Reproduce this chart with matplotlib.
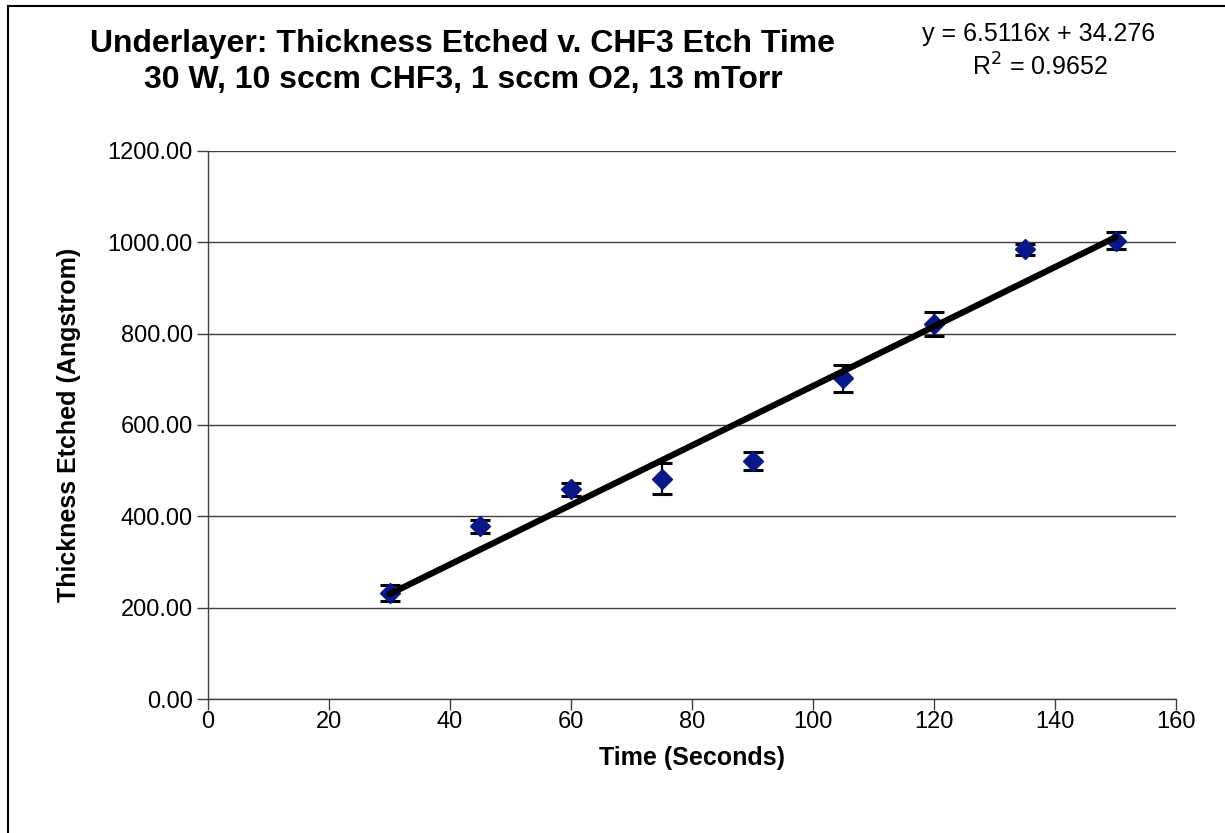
"""Underlayer etch thickness vs CHF3 etch time, with linear trendline"""

import matplotlib.pyplot as plt
import matplotlib.lines as mlines
import numpy as np

# Data
etch_time = [30, 45, 60, 75, 90, 105, 120, 135, 150]
thickness = [232, 378, 459, 482, 521, 702, 821, 985, 1004]
thickness_err = [17, 15, 14, 34, 20, 29, 27, 12, 18]

# Trendline coefficients as printed on the chart
slope = 6.5116
intercept = 34.276
r_squared = 0.9652

x_ticks = [0, 20, 40, 60, 80, 100, 120, 140, 160]
y_ticks = [0, 200, 400, 600, 800, 1000, 1200]

plt.rcParams['font.family'] = ['Liberation Sans', 'DejaVu Sans']

fig = plt.figure(figsize=(12.25, 8.33), dpi=100)
ax = fig.add_axes([208 / 1225, 1 - 699 / 833, (1176 - 208) / 1225, (699 - 151) / 833])

# horizontal gridlines only
ax.set_axisbelow(True)
ax.yaxis.grid(True, color='#404040', linewidth=1.0)

# error bars + markers
ax.errorbar(etch_time, thickness, yerr=thickness_err, fmt='none',
            ecolor='black', elinewidth=1.6, capsize=7, capthick=2.2, zorder=3)
ax.plot(etch_time, thickness, linestyle='none', marker='D', markersize=10.5,
        color='#08188a', markeredgecolor='#08188a', zorder=4)

# trendline over the data range
fit_x = np.array([min(etch_time), max(etch_time)])
ax.plot(fit_x, slope * fit_x + intercept, color='black', linewidth=4.5,
        solid_capstyle='round', zorder=5)

ax.set_xlim(0, 160)
ax.set_ylim(0, 1200)
ax.set_xticks(x_ticks)
ax.set_yticks(y_ticks)
ax.set_yticklabels([f'{v:.2f}' for v in y_ticks])
ax.tick_params(axis='both', direction='out', length=8, width=1.0,
               color='#404040', labelsize=17)
ax.tick_params(axis='y', pad=3)
ax.tick_params(axis='x', pad=1)

for side in ['top', 'right']:
    ax.spines[side].set_visible(False)
for side in ['left', 'bottom']:
    ax.spines[side].set_color('#404040')
    ax.spines[side].set_linewidth(1.0)

ax.set_xlabel('Time (Seconds)', fontsize=18, fontweight='bold', labelpad=9)
ax.set_ylabel('Thickness Etched (Angstrom)', fontsize=18, fontweight='bold', labelpad=19)

fig.text(463 / 1225, 1 - 62 / 833,
         'Underlayer: Thickness Etched v. CHF3 Etch Time\n30 W, 10 sccm CHF3, 1 sccm O2, 13 mTorr',
         ha='center', va='center', fontsize=23, fontweight='bold', linespacing=1.3)

fig.text(1039 / 1225, 1 - 34 / 833, f'y = {slope}x + {intercept}',
         ha='center', va='center', fontsize=18)
fig.text(1040 / 1225, 1 - 67 / 833, f'R$^2$ = {r_squared}',
         ha='center', va='center', fontsize=18)

# chart area border (only left and top edges are inside the image)
fig.add_artist(mlines.Line2D([8 / 1225, 8 / 1225], [0, 1 - 6 / 833],
                             transform=fig.transFigure, color='black', linewidth=1.5))
fig.add_artist(mlines.Line2D([8 / 1225, 1], [1 - 6 / 833, 1 - 6 / 833],
                             transform=fig.transFigure, color='black', linewidth=1.5))

fig.savefig('out.png', dpi=100)
